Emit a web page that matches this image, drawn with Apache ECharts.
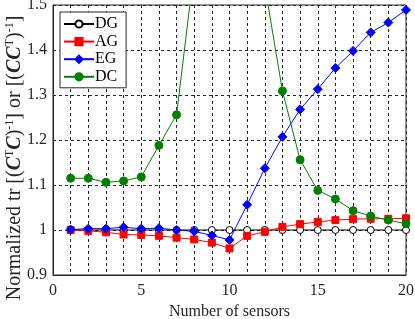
<!DOCTYPE html>
<html><head><meta charset="utf-8">
<script src="https://cdn.jsdelivr.net/npm/echarts@6/dist/echarts.min.js"></script>
<style>html,body{margin:0;padding:0;background:#fff}#c{width:415px;height:319px}</style>
</head><body><div id="c"></div>
<script>
var sensors = [1,2,3,4,5,6,7,8,9,10,11,12,13,14,15,16,17,18,19,20];
var DG = [1,1,1,1,1,1,1,1,1,1,1,1,1,1,1,1,1,1,1,1];
var AG = [1.000,0.998,0.995,0.990,0.989,0.987,0.983,0.979,0.972,0.959,0.987,0.996,1.007,1.013,1.018,1.022,1.024,1.025,1.025,1.026];
var EG = [1.001,1.003,1.003,1.006,1.003,1.004,1.000,0.997,0.988,0.978,1.056,1.137,1.207,1.268,1.313,1.360,1.398,1.439,1.461,1.489];
var DC = [1.115,1.115,1.106,1.109,1.118,1.188,1.256,1.58,2.5,5.0,2.5,1.543,1.309,1.156,1.088,1.069,1.043,1.031,1.022,1.014];
var xTicks = [0,5,10,15,20];
var yTicks = [0.9,1,1.1,1.2,1.3,1.4,1.5];
var yTitle = 'Normalized tr [({i|C}{sup|T}{i|C}){sup|-1}] or [({i|CC}{sup|T}){sup|-1}]';

function pairs(v){ return sensors.map(function(s,i){ return [s, v[i]]; }); }
var font = 'Liberation Serif';
var chart = echarts.init(document.getElementById('c'));
function mk(name, data, color, symbol, size, fill){
  return {
    name: name, type: 'line', data: pairs(data), symbol: symbol, symbolSize: size,
    showSymbol: true, clip: true,
    lineStyle: {color: color, width: 1},
    itemStyle: {color: fill ? color : '#fff', borderColor: color, borderWidth: 1},
    emphasis: {disabled: true}, animation: false
  };
}
chart.setOption({
  animation: false,
  grid: {left: 53, right: 9, top: 5, bottom: 44, outerBoundsMode: 'none', containLabel: false,
         show: true, borderColor: '#262626', borderWidth: 1, backgroundColor: 'transparent'},
  graphic: [{
    type: 'text', x: 15, y: 158, rotation: Math.PI / 2, silent: true,
    style: {
      text: yTitle, align: 'center', verticalAlign: 'middle',
      fontFamily: font, fontSize: 20, fill: '#262626', lineHeight: 23,
      rich: {
        i: {fontFamily: font, fontSize: 20, fontStyle: 'italic', fontWeight: 'bold', fill: '#262626', lineHeight: 23},
        sup: {fontFamily: font, fontSize: 12, fill: '#262626', verticalAlign: 'top', lineHeight: 23}
      }
    }
  }],
  legend: {
    left: 60, top: 12, orient: 'vertical', backgroundColor: '#fff', borderColor: '#262626', borderWidth: 1,
    padding: [4,8,3,3], itemGap: 1.6, itemWidth: 30, itemHeight: 9,
    textStyle: {fontFamily: font, fontSize: 16, lineHeight: 16, color: '#000', padding: [0,0,0,-4]},
    data: ['DG','AG','EG','DC']
  },
  xAxis: {
    type: 'value', min: 0, max: 20, interval: 1,
    name: 'Number of sensors', nameLocation: 'middle', nameGap: 29,
    nameTextStyle: {fontFamily: font, fontSize: 16, color: '#262626'},
    axisLine: {show: true, lineStyle: {color: '#262626'}},
    axisTick: {show: false},
    axisLabel: {fontFamily: font, fontSize: 16, color: '#262626', margin: 8,
      formatter: function(v){ return xTicks.indexOf(v) >= 0 ? String(v) : ''; }},
    splitLine: {show: true, lineStyle: {color: '#262626', type: [3,3], width: 1}}
  },
  yAxis: {
    type: 'value', min: 0.9, max: 1.5, interval: 0.1,
    axisLine: {show: true, lineStyle: {color: '#262626'}},
    axisTick: {show: false},
    axisLabel: {fontFamily: font, fontSize: 16, color: '#262626', margin: 6,
      formatter: function(v){ var r = Math.round(v*10)/10; return yTicks.indexOf(r) >= 0 ? String(r) : ''; }},
    splitLine: {show: true, lineStyle: {color: '#262626', type: [3,3], width: 1}}
  },
  series: [
    mk('DG', DG, '#000000', 'circle', 7, false),
    mk('AG', AG, '#ff0000', 'rect', 7, true),
    mk('EG', EG, '#0000ff', 'diamond', 9, true),
    mk('DC', DC, '#008000', 'circle', 8, true)
  ]
});
</script></body></html>
